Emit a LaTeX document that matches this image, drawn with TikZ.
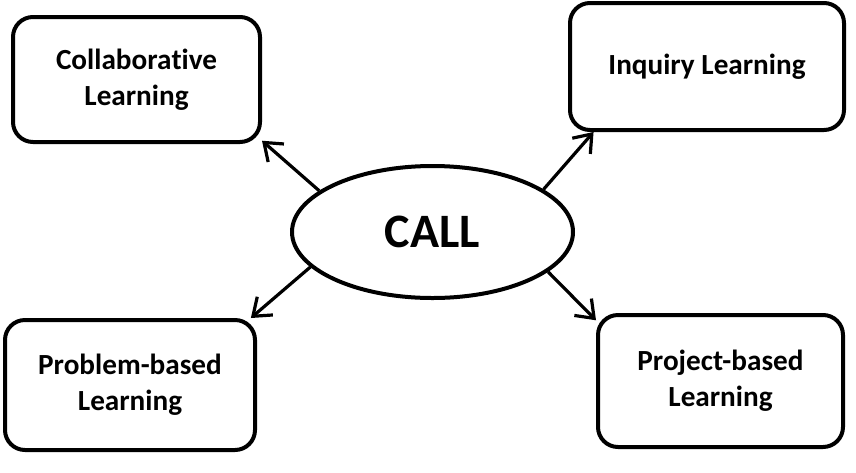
\documentclass[tikz,border=0pt]{standalone}
\usepackage{fontspec}
\setmainfont{Carlito}[RawFeature={-liga;-clig;-calt}]
\usetikzlibrary{shapes.geometric,arrows.meta}
\begin{document}
\begin{tikzpicture}[x=0.5pt,y=-0.5pt]
            %
            % `method' is used for the four learning boxes.
            % `centre' is used for the CALL ellipse.
            % `link' is used for the arrows out of the ellipse.
            \tikzstyle{method} = [draw,line width=2pt,rounded corners=10pt,inner sep=0pt,align=center,font=\fontsize{14.6}{18}\selectfont\bfseries]
            \tikzstyle{centre} = [draw,ellipse,line width=2pt,inner sep=0pt,minimum width=140.5pt,minimum height=66pt,font=\fontsize{24}{28}\selectfont\bfseries]
            \tikzstyle{link} = [line width=1.6pt,-{Straight Barb[length=8pt,width=12pt,line width=1.6pt]}]
            %
            \useasboundingbox (0,0) rectangle (856,472);
            %
            % Centre
            \node[centre] (call) at (432.5,232) {CALL};
            %
            % Boxes
            \node[method,minimum width=123.5pt,minimum height=62.5pt] (colab) at (136.5,79.5) {Collabora\kern0pt tive\\Learning};
            \node[method,minimum width=137pt,minimum height=63.5pt] (inquiry) at (707,66.5) {Inquiry Learning};
            \node[method,minimum width=125pt,minimum height=65pt] (problem) at (130,385) {Problem-based\\Learning};
            \node[method,minimum width=122.5pt,minimum height=66pt] (project) at (720.5,381) {Project-based\\Learning};
            %
            % Arrows
            \draw[link] (call.160) -- (colab.-26);
            \draw[link] (call.21) -- (inquiry.210);
            \draw[link] (call.196) -- (problem.29);
            \draw[link] (call.-19) -- (project.154);
        \end{tikzpicture}
\end{document}
